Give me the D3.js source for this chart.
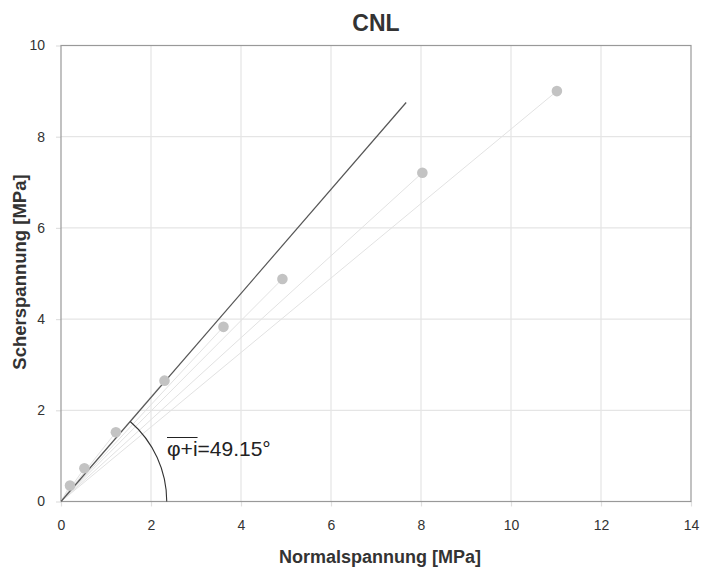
<!DOCTYPE html>
<html><head><meta charset="utf-8">
<script src="https://cdn.jsdelivr.net/npm/d3@7"></script>
<style>body{margin:0;background:#fff;}svg{display:block;font-family:"Liberation Sans",Arial,sans-serif;}</style>
</head><body><div id="chart"></div>
<script>
const title = "CNL";
const xLabel = "Normalspannung [MPa]";
const yLabel = "Scherspannung [MPa]";
const xTicks = [0, 2, 4, 6, 8, 10, 12, 14];
const yTicks = [0, 2, 4, 6, 8, 10];
const normalStress = [0.2, 0.52, 1.22, 2.3, 3.61, 4.92, 8.03, 11.02];
const shearStress = [0.35, 0.73, 1.52, 2.65, 3.83, 4.88, 7.21, 9.0];
const fitLineEnd = [7.67, 8.75];
const arcRadiusX = 2.35;
const angleLabel = "49.15°";

const W = 702, H = 569;
const m = {left: 61, right: 11, top: 45.5, bottom: 67.5};
const svg = d3.select("#chart").append("svg").attr("width", W).attr("height", H);
const x = d3.scaleLinear().domain([0, 14]).range([m.left, W - m.right]);
const y = d3.scaleLinear().domain([0, 10]).range([H - m.bottom, m.top]);

// grid
svg.append("g").selectAll("line").data(xTicks.slice(1, -1)).join("line")
  .attr("x1", d => x(d)).attr("x2", d => x(d)).attr("y1", y(10)).attr("y2", y(0))
  .attr("stroke", "#e5e5e5").attr("stroke-width", 1.2);
svg.append("g").selectAll("line").data(yTicks.slice(1, -1)).join("line")
  .attr("y1", d => y(d)).attr("y2", d => y(d)).attr("x1", x(0)).attr("x2", x(14))
  .attr("stroke", "#e5e5e5").attr("stroke-width", 1.2);

// axes
const xAxis = svg.append("g").attr("transform", `translate(0,${y(0)})`)
  .call(d3.axisBottom(x).tickValues(xTicks).tickSize(5).tickPadding(14).tickSizeOuter(0));
const yAxis = svg.append("g").attr("transform", `translate(${x(0)},0)`)
  .call(d3.axisLeft(y).tickValues(yTicks).tickSize(5).tickPadding(11).tickSizeOuter(0));
[xAxis, yAxis].forEach(a => {
  a.select(".domain").remove();
  a.selectAll(".tick line").attr("stroke", "#e0e0e0").attr("stroke-width", 1.2);
  a.selectAll(".tick text").attr("fill", "#333").attr("font-size", 14)
    .attr("font-family", '"Liberation Sans",Arial,sans-serif');
});

// plot frame
svg.append("rect").attr("x", x(0)).attr("y", y(10)).attr("width", x(14) - x(0)).attr("height", y(0) - y(10))
  .attr("fill", "none").attr("stroke", "#999").attr("stroke-width", 1.2);

// rays from origin
const pts = normalStress.map((d, i) => [d, shearStress[i]]);
svg.append("g").selectAll("line").data(pts).join("line")
  .attr("x1", x(0)).attr("y1", y(0)).attr("x2", d => x(d[0])).attr("y2", d => y(d[1]))
  .attr("stroke", "#e2e2e2").attr("stroke-width", 1);

// fit line
svg.append("line").attr("x1", x(0)).attr("y1", y(0)).attr("x2", x(fitLineEnd[0])).attr("y2", y(fitLineEnd[1]))
  .attr("stroke", "#555").attr("stroke-width", 1.2);

// arc
const r = x(arcRadiusX) - x(0);
const ang = Math.atan2(y(0) - y(fitLineEnd[1]), x(fitLineEnd[0]) - x(0));
const arcPath = d3.path();
arcPath.arc(x(0), y(0), r, 0, -ang, true);
svg.append("path").attr("d", arcPath.toString()).attr("fill", "none").attr("stroke", "#333").attr("stroke-width", 1.1);

// points
svg.append("g").selectAll("circle").data(pts).join("circle")
  .attr("cx", d => x(d[0])).attr("cy", d => y(d[1])).attr("r", 5.3).attr("fill", "#c3c3c3");

// angle label
const lab = svg.append("text").attr("x", 167).attr("y", 456).attr("font-size", 21).attr("fill", "#222");
const t1 = lab.append("tspan").text("φ+i");
lab.append("tspan").text("=" + angleLabel);
const ow = t1.node().getComputedTextLength();
svg.append("line").attr("x1", 167).attr("x2", 167 + ow).attr("y1", 437.5).attr("y2", 437.5).attr("stroke", "#222").attr("stroke-width", 1);

// titles
svg.append("text").attr("x", 376).attr("y", 31).attr("text-anchor", "middle").attr("font-size", 23)
  .attr("font-weight", "bold").attr("fill", "#333").text(title);
svg.append("text").attr("x", 380).attr("y", 563).attr("text-anchor", "middle").attr("font-size", 18)
  .attr("font-weight", "bold").attr("fill", "#333").text(xLabel);
svg.append("text").attr("transform", "translate(26,272) rotate(-90)").attr("text-anchor", "middle").attr("font-size", 18.5)
  .attr("font-weight", "bold").attr("fill", "#333").text(yLabel);
</script></body></html>
